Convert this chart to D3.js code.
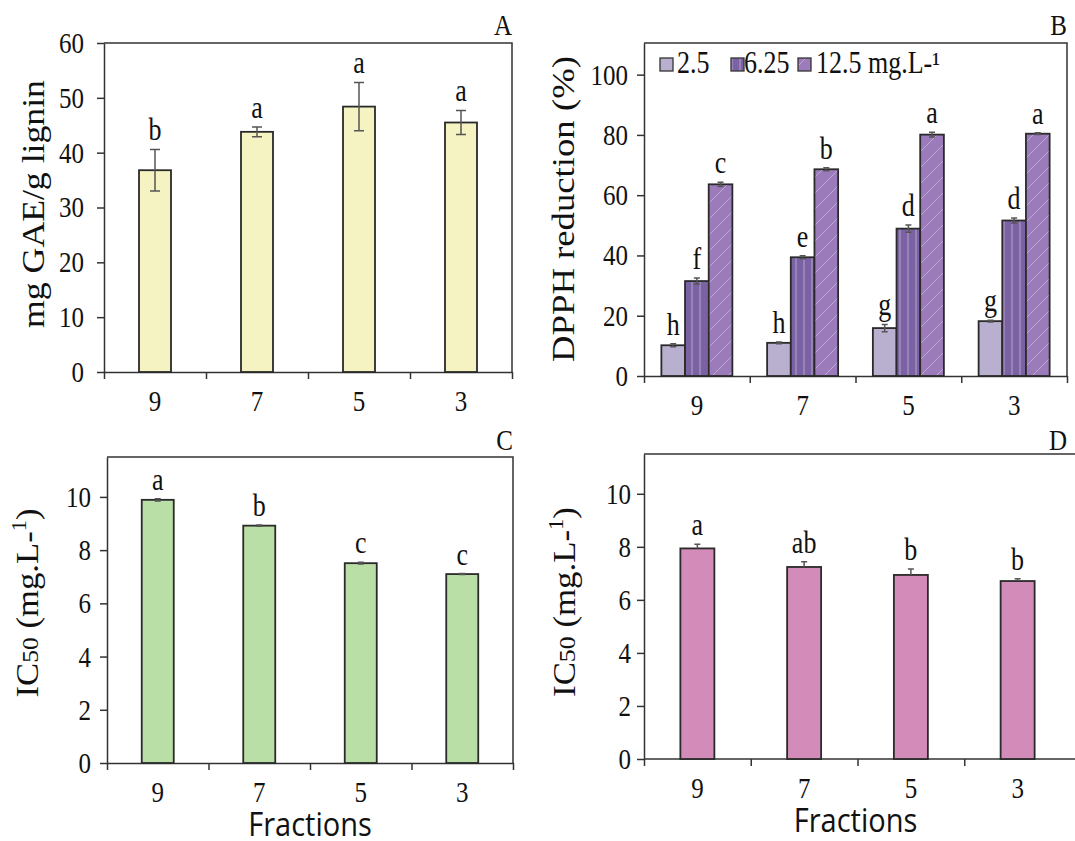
<!DOCTYPE html>
<html>
<head>
<meta charset="utf-8">
<script src="https://cdn.jsdelivr.net/npm/d3@7"></script>
<style>
  body { margin: 0; background: #fff; }
  text { font-family: "Liberation Serif", "Times New Roman", serif; fill: #111; }
</style>
</head>
<body>
<script>
var fractions = ["9", "7", "5", "3"];

// A: total phenolics
var phenolic = [36.8, 43.8, 48.4, 45.5];
var phenolicErr = [3.8, 0.9, 4.4, 2.2];
var phenolicLetters = ["b", "a", "a", "a"];
var ticksA = [0, 10, 20, 30, 40, 50, 60];

// B: DPPH reduction at three concentrations
var concentrations = ["2.5", "6.25", "12.5 mg.L-\u00b9"];
var dpph25 = [10.2, 11.0, 15.9, 18.2];
var dpph625 = [31.5, 39.4, 48.9, 51.6];
var dpph125 = [63.6, 68.6, 80.1, 80.4];
var err25 = [0.5, 0.3, 1.2, 0.3];
var err625 = [1.0, 0.5, 1.2, 0.8];
var err125 = [0.7, 0.5, 0.8, 0.3];
var letters25 = ["h", "h", "g", "g"];
var letters625 = ["f", "e", "d", "d"];
var letters125 = ["c", "b", "a", "a"];
var ticksB = [0, 20, 40, 60, 80, 100];

// C and D: IC50
var ic50C = [9.89, 8.92, 7.51, 7.10];
var errC = [0.04, 0.02, 0.03, 0.02];
var lettersC = ["a", "b", "c", "c"];
var ic50D = [7.94, 7.24, 6.94, 6.71];
var errD = [0.16, 0.20, 0.22, 0.09];
var lettersD = ["a", "ab", "b", "b"];
var ticksCD = [0, 2, 4, 6, 8, 10];

var k = 1.18; // serif text in the figure is stretched vertically

var svg = d3.select("body").append("svg")
            .attr("width", 1075)
            .attr("height", 841);

var defs = svg.append("defs");

var vs = defs.append("pattern")
             .attr("id", "vstripe")
             .attr("patternUnits", "userSpaceOnUse")
             .attr("width", 8).attr("height", 8);
vs.append("rect").attr("width", 8).attr("height", 8).attr("fill", "#7b63a3");
vs.append("line").attr("x1", 4).attr("x2", 4).attr("y1", 0).attr("y2", 8)
  .attr("stroke", "#b3a3d0").attr("stroke-width", 1);

var ds = defs.append("pattern")
             .attr("id", "dstripe")
             .attr("patternUnits", "userSpaceOnUse")
             .attr("width", 16).attr("height", 16);
ds.append("rect").attr("width", 16).attr("height", 16).attr("fill", "#9c7bba");
ds.append("path").attr("d", "M0,16L16,0M-2,2L2,-2M14,18L18,14")
  .attr("stroke", "#c6b3da").attr("stroke-width", 0.8);

function label(g, x, y, str, size, anchor) {
  return g.append("text")
          .attr("transform", "translate(" + x + "," + y + ") scale(1," + k + ")")
          .attr("text-anchor", anchor || "middle")
          .style("font-size", size + "px")
          .text(str);
}

function panel(p) {
  var g = svg.append("g");
  var n = fractions.length;

  var y = d3.scaleLinear().domain([0, p.ymax]).range([p.bottom, p.top]);
  var x = d3.scaleBand().domain(fractions).range([p.left, p.right]);
  var xt = d3.scaleLinear().domain([0, n]).range([p.left, p.right]);
  var sub = d3.scaleBand().domain(d3.range(p.series.length))
              .range([-p.groupWidth / 2, p.groupWidth / 2]);

  g.append("path")
   .attr("d", p.open ? "M" + p.left + "," + p.top + "H1080"
                     : "M" + p.left + "," + p.top + "H" + p.right + "V" + p.bottom)
   .attr("fill", "none")
   .attr("stroke", "#333")
   .attr("stroke-width", 1.5);

  var ya = g.append("g")
            .attr("transform", "translate(" + p.left + ",0)")
            .attr("color", "#333")
            .call(d3.axisLeft(y).tickValues(p.ticks).tickSize(7).tickSizeOuter(0).tickPadding(p.pad));
  ya.selectAll("path, line").attr("stroke-width", 1.5);
  ya.selectAll("text")
    .style("font-size", "25px")
    .attr("transform", "scale(1," + k + ")");

  var xa = g.append("g")
            .attr("transform", "translate(0," + p.bottom + ")")
            .attr("color", "#333")
            .call(d3.axisBottom(xt).tickValues(d3.range(p.open ? n : n + 1))
                    .tickFormat("").tickSize(7).tickSizeOuter(0));
  xa.selectAll("path, line").attr("stroke-width", 1.5);
  if (p.open) xa.select("path").attr("d", "M" + p.left + ",0H1080");

  fractions.forEach(function(c) {
    label(g, x(c) + x.bandwidth() / 2, p.bottom + 39, c, 25);
  });

  p.series.forEach(function(s, i) {
    var cx = function(c) { return x(c) + x.bandwidth() / 2 + sub(i); };

    g.selectAll(null)
     .data(fractions)
     .enter()
       .append("rect")
       .attr("x", function(c) { return cx(c); })
       .attr("y", function(c, j) { return y(s.values[j]); })
       .attr("width", sub.bandwidth())
       .attr("height", function(c, j) { return p.bottom - y(s.values[j]); })
       .attr("fill", s.fill)
       .attr("stroke", "#2a2a2a")
       .attr("stroke-width", 1.8);

    var cap = p.cap;
    g.selectAll(null)
     .data(fractions)
     .enter()
       .append("path")
       .attr("d", function(c, j) {
         var m = cx(c) + sub.bandwidth() / 2;
         var hi = y(s.values[j] + s.errors[j]);
         var lo = p.upperOnly ? y(s.values[j]) : y(s.values[j] - s.errors[j]);
         return "M" + m + "," + hi + "V" + lo +
                "M" + (m - cap) + "," + hi + "H" + (m + cap) +
                (p.upperOnly ? "" : "M" + (m - cap) + "," + lo + "H" + (m + cap));
       })
       .attr("fill", "none")
       .attr("stroke", "#555")
       .attr("stroke-width", 1.5);

    fractions.forEach(function(c, j) {
      label(g, cx(c) + sub.bandwidth() / 2, y(s.values[j] + s.errors[j]) - 9, s.letters[j], 26);
    });
  });

  // axis title, stretched along its length to the reference's extent
  var t = g.append("text")
           .attr("text-anchor", "middle")
           .style("font-size", "31px");
  p.title.forEach(function(part) {
    var ts = t.append("tspan").text(part[0]);
    if (part[1] == "sub") ts.style("font-size", "23px");
    if (part[1] == "sup") ts.style("font-size", "20px").attr("dy", -12);
    if (part[1] == "back") ts.attr("dy", 12);
  });
  var len = t.node().getComputedTextLength();
  var sx = len > 0 ? p.titleLen / len : 1;
  t.attr("transform", "translate(" + p.titleX + "," + p.titleY + ") rotate(-90) scale(" + sx + ",1)");

  label(g, p.right0 || p.right, p.letterY, p.letter, 25, "end");

  if (p.xTitle) {
    g.append("text")
     .attr("transform", "translate(" + ((p.left + (p.right0 || p.right)) / 2) + "," + (p.bottom + 73) + ") scale(1,1.1)")
     .attr("text-anchor", "middle")
     .style("font-family", "'Open Sans', sans-serif")
     .style("font-size", "29px")
     .text("Fractions");
  }
  return g;
}

panel({
  left: 104, right: 512, top: 43, bottom: 372, ymax: 60, ticks: ticksA, pad: 13,
  groupWidth: 32, cap: 5,
  series: [{values: phenolic, errors: phenolicErr, letters: phenolicLetters, fill: "#f5f3c2"}],
  title: [["mg GAE/g lignin"]], titleX: 44, titleY: 204, titleLen: 248,
  letter: "A", letterY: 35
});

var gB = panel({
  left: 644, right: 1067, top: 43, bottom: 376, ymax: 110.5, ticks: ticksB, pad: 9,
  groupWidth: 71, cap: 3,
  series: [
    {values: dpph25, errors: err25, letters: letters25, fill: "#b9b0d0"},
    {values: dpph625, errors: err625, letters: letters625, fill: "url(#vstripe)"},
    {values: dpph125, errors: err125, letters: letters125, fill: "url(#dstripe)"}
  ],
  title: [["DPPH reduction (%)"]], titleX: 574, titleY: 209, titleLen: 306,
  letter: "B", letterY: 35
});

var legendFills = ["#b9b0d0", "url(#vstripe)", "url(#dstripe)"];
var legendX = [660, 731, 798];
var legendTextX = [677, 744, 816];
concentrations.forEach(function(c, i) {
  gB.append("rect")
    .attr("x", legendX[i]).attr("y", 58)
    .attr("width", 13).attr("height", 13)
    .attr("fill", legendFills[i])
    .attr("stroke", "#333").attr("stroke-width", 1.3);
  label(gB, legendTextX[i], 73, c, 26, "start");
});

panel({
  left: 107, right: 513, top: 457, bottom: 763, ymax: 11.5, ticks: ticksCD, pad: 9,
  groupWidth: 32, cap: 3,
  series: [{values: ic50C, errors: errC, letters: lettersC, fill: "#b9dea6"}],
  title: [["IC"], ["50", "sub"], [" (mg.L-"], ["1", "sup"], [")", "back"]],
  titleX: 38, titleY: 603, titleLen: 189,
  letter: "C", letterY: 450, xTitle: true
});

panel({
  left: 644, right: 1071, right0: 1067, top: 454, bottom: 759, ymax: 11.5, ticks: ticksCD, pad: 6,
  groupWidth: 34, cap: 3, upperOnly: true, open: true,
  series: [{values: ic50D, errors: errD, letters: lettersD, fill: "#d38bba"}],
  title: [["IC"], ["50", "sub"], [" (mg.L-"], ["1", "sup"], [")", "back"]],
  titleX: 575, titleY: 602, titleLen: 190,
  letter: "D", letterY: 450, xTitle: true
});
</script>
</body>
</html>
